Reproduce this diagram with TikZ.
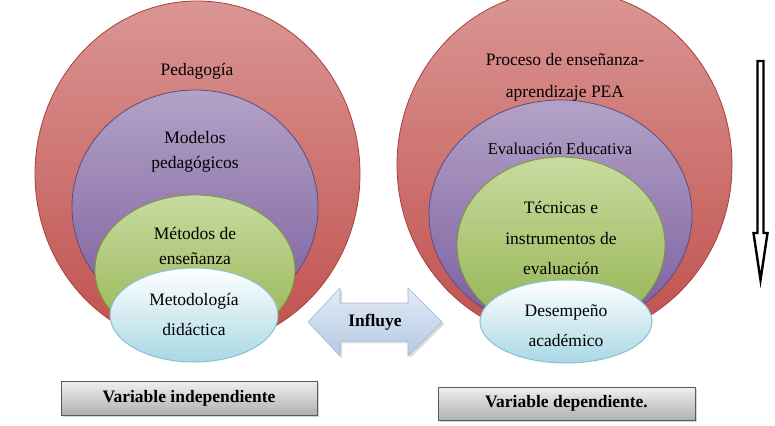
\documentclass[tikz,border=0pt]{standalone}
\usepackage{fontspec}
\setmainfont{Liberation Serif}
\usetikzlibrary{shapes.geometric,shadows}
\definecolor{redT}{HTML}{DA9694}
\definecolor{redM}{HTML}{C65551}
\definecolor{redB}{HTML}{C0504D}
\definecolor{redE}{HTML}{A8413E}
\definecolor{purT}{HTML}{B3A2C7}
\definecolor{purM}{HTML}{8E72B0}
\definecolor{purB}{HTML}{7A5C9D}
\definecolor{purE}{HTML}{5F4A80}
\definecolor{grnT}{HTML}{C8DBA0}
\definecolor{grnB}{HTML}{92B34E}
\definecolor{grnE}{HTML}{789839}
\definecolor{bluT}{HTML}{FFFFFF}
\definecolor{bluB}{HTML}{A9D8E4}
\definecolor{bluE}{HTML}{86C2D4}
\definecolor{arrT}{HTML}{E3EBF5}
\definecolor{arrB}{HTML}{B5CAE3}
\definecolor{arrE}{HTML}{9DB7D9}
\begin{document}
\begin{tikzpicture}[x=1pt,y=-1pt,
  ell/.style={ellipse, inner sep=0pt, outer sep=0pt},
  redell/.style={ell, draw=redE, line width=0.8pt, top color=redT, middle color=redM, bottom color=redB},
  purell/.style={ell, draw=purE, line width=0.8pt, top color=purT, middle color=purM, bottom color=purB},
  grnell/.style={ell, draw=grnE, line width=0.8pt, top color=grnT, bottom color=grnB},
  bluell/.style={ell, draw=bluE, line width=1pt, top color=bluT, bottom color=bluB},
  lbl/.style={align=center, inner sep=0pt, text=black},
  varbox/.style={draw=gray!70!black, line width=0.6pt, top color=gray!12, bottom color=gray!62,
    font=\fontsize{17.5}{20}\selectfont\bfseries, inner sep=0pt,
    drop shadow={opacity=0.35, shadow xshift=2pt, shadow yshift=-2pt}},
  infarrow/.style={draw=arrE, line width=0.6pt, top color=arrT, bottom color=arrB, line join=miter,
    drop shadow={opacity=0.3, shadow xshift=2pt, shadow yshift=-2pt}},
  downarrow/.style={draw=black, fill=white, line width=2.4pt, line join=miter}
]
\useasboundingbox (0,0) rectangle (775,425);

% left nest
\node[redell, minimum width=325pt, minimum height=346pt] (redL) at (197.5,174) {};
\node[purell, minimum width=246pt, minimum height=234pt] (purL) at (195,207) {};
\node[grnell, minimum width=200pt, minimum height=150pt] (grnL) at (195,270) {};
\node[bluell, minimum width=168pt, minimum height=94pt] (bluL) at (194,315) {};

\node[lbl, font=\fontsize{17.5}{25}\selectfont] (tPed) at (197,71) {Pedagogía};
\node[lbl, font=\fontsize{17.5}{24.5}\selectfont] (tMod) at (195,152) {Modelos\\pedagógicos};
\node[lbl, font=\fontsize{17.5}{25}\selectfont] (tMet) at (195,245.5) {Métodos de\\enseñanza};
\node[lbl, font=\fontsize{17.5}{29.5}\selectfont] (tMdd) at (194,314.5) {Metodología\\didáctica};

% right nest
\node[redell, minimum width=335pt, minimum height=350pt] (redR) at (564.5,165) {};
\node[purell, minimum width=263pt, minimum height=230pt] (purR) at (560.5,215) {};
\node[grnell, minimum width=208pt, minimum height=176pt] (grnR) at (561,245) {};
\node[bluell, minimum width=172pt, minimum height=83pt] (bluR) at (566,321.5) {};

\node[lbl, font=\fontsize{17.5}{32}\selectfont] (tPEA) at (565,77) {Proceso de enseñanza-\\aprendizaje PEA};
\node[lbl, font=\fontsize{16.5}{20}\selectfont] (tEva) at (560,149) {Evaluación Educativa};
\node[lbl, font=\fontsize{17.5}{30.5}\selectfont] (tTec) at (561,238) {Técnicas e\\instrumentos de\\evaluación};
\node[lbl, font=\fontsize{17.5}{30}\selectfont] (tDes) at (566,326) {Desempeño\\académico};

% influye double arrow
\path[infarrow] (308,322) -- (340,288) -- (340,303) -- (408,303) -- (408,288) -- (442,322)
  -- (408,356) -- (408,341) -- (340,341) -- (340,356) -- cycle;
\node[lbl, font=\fontsize{17.5}{20}\selectfont\bfseries] (inf) at (375,322) {Influye};

% vertical arrow
\path[downarrow] (757.5,61) -- (763.5,61) -- (763.5,233) -- (767.5,233) -- (760.5,280)
  -- (753.5,233) -- (757.5,233) -- cycle;

% variable boxes
\node[varbox, minimum width=256pt, minimum height=34pt] (vInd) at (189,398) {Variable independiente};
\node[varbox, minimum width=257pt, minimum height=33pt] (vDep) at (566.5,403.5) {Variable dependiente.};
\end{tikzpicture}
\end{document}
